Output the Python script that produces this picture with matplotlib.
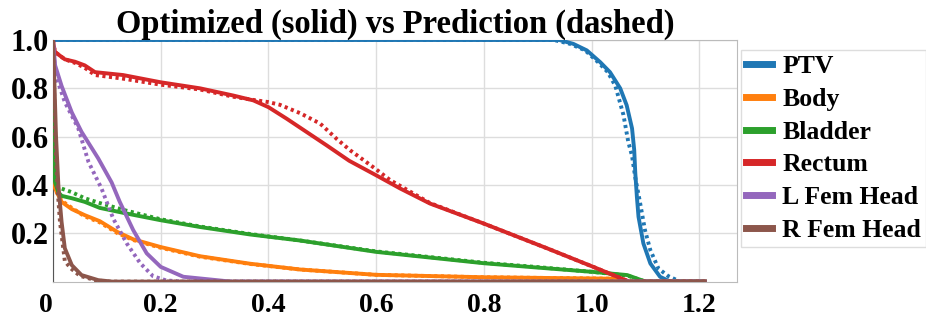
import numpy as np
import matplotlib
matplotlib.use('Agg')
import matplotlib.pyplot as plt

## Data (dose fraction vs volume fraction)

names = ['PTV', 'Body', 'Bladder', 'Rectum', 'L Fem Head', 'R Fem Head']
colors = ['#1f77b4', '#ff7f0e', '#2ca02c', '#d62728', '#9467bd', '#8c564b']

ptv_x = [0, 0.94, 0.966, 0.991, 1.016, 1.034, 1.053, 1.065, 1.075, 1.079, 1.081,
         1.084, 1.087, 1.096, 1.109, 1.127, 1.146, 1.21]
ptv_y = [1, 1, 0.984, 0.957, 0.908, 0.867, 0.80, 0.73, 0.634, 0.545, 0.45,
         0.35, 0.268, 0.158, 0.075, 0.02, 0.0, 0.0]
ptv_px = [0, 0.93, 0.96, 0.988, 1.012, 1.03, 1.044, 1.059, 1.068, 1.075, 1.081,
          1.089, 1.099, 1.109, 1.124, 1.142, 1.164, 1.21]
ptv_py = [1, 1, 0.984, 0.957, 0.908, 0.867, 0.81, 0.69, 0.578, 0.52, 0.43,
          0.337, 0.213, 0.13, 0.054, 0.023, 0.0, 0.0]

body_x = [0, 0.002, 0.004, 0.016, 0.035, 0.059, 0.087, 0.12, 0.149, 0.2, 0.273,
          0.366, 0.459, 0.6, 0.8, 1.04, 1.06, 1.21]
body_y = [1, 0.42, 0.385, 0.33, 0.30, 0.275, 0.25, 0.205, 0.175, 0.143, 0.105,
          0.074, 0.05, 0.028, 0.018, 0.012, 0.0, 0.0]
body_py = [1, 0.42, 0.38, 0.335, 0.305, 0.27, 0.245, 0.20, 0.172, 0.14, 0.103,
           0.073, 0.05, 0.028, 0.018, 0.012, 0.0, 0.0]

bladder_x = [0, 0.001, 0.002, 0.004, 0.01, 0.016, 0.035, 0.059, 0.087, 0.134, 0.2,
             0.273, 0.366, 0.459, 0.6, 0.8, 0.9, 1.003, 1.066, 1.10, 1.21]
bladder_y = [1, 0.6, 0.48, 0.41, 0.37, 0.355, 0.345, 0.33, 0.305, 0.283, 0.254,
             0.226, 0.195, 0.17, 0.123, 0.076, 0.058, 0.04, 0.027, 0.0, 0.0]
bladder_py = [1, 0.65, 0.5, 0.41, 0.39, 0.385, 0.37, 0.345, 0.325, 0.295, 0.258,
              0.228, 0.197, 0.17, 0.125, 0.078, 0.06, 0.04, 0.025, 0.0, 0.0]

rectum_x = [0, 0.002, 0.004, 0.022, 0.041, 0.059, 0.078, 0.13, 0.2, 0.273, 0.335,
            0.372, 0.4, 0.434, 0.471, 0.508, 0.55, 0.6, 0.644, 0.7, 0.8, 0.917,
            1.003, 1.053, 1.07, 1.21]
rectum_y = [1, 0.97, 0.95, 0.92, 0.91, 0.895, 0.867, 0.855, 0.825, 0.80, 0.77,
            0.75, 0.722, 0.674, 0.619, 0.564, 0.50, 0.44, 0.386, 0.323, 0.24, 0.138,
            0.061, 0.015, 0.0, 0.0]
rectum_px = [0, 0.002, 0.004, 0.022, 0.041, 0.059, 0.078, 0.13, 0.2, 0.273, 0.335,
             0.372, 0.4, 0.421, 0.459, 0.496, 0.527, 0.552, 0.598, 0.626, 0.7, 0.8,
             0.917, 1.003, 1.053, 1.07, 1.21]
rectum_py = [1, 0.97, 0.95, 0.92, 0.905, 0.885, 0.855, 0.84, 0.815, 0.795, 0.765,
             0.752, 0.743, 0.732, 0.697, 0.654, 0.59, 0.543, 0.468, 0.42, 0.325, 0.24,
             0.138, 0.061, 0.015, 0.0, 0.0]

lfem_x = [0, 0.004, 0.016, 0.035, 0.053, 0.084, 0.109, 0.124, 0.149, 0.174, 0.2,
          0.242, 0.304, 0.33, 1.21]
lfem_y = [1, 0.895, 0.81, 0.70, 0.62, 0.51, 0.41, 0.33, 0.213, 0.117, 0.061,
          0.02, 0.006, 0.0, 0.0]
lfem_px = [0, 0.004, 0.022, 0.047, 0.066, 0.09, 0.112, 0.137, 0.162, 0.186, 0.21,
           0.24, 1.21]
lfem_py = [1, 0.86, 0.743, 0.634, 0.495, 0.386, 0.26, 0.158, 0.076, 0.022, 0.005,
           0.0, 0.0]

rfem_x = [0, 0.003, 0.0056, 0.01, 0.016, 0.022, 0.035, 0.053, 0.084, 0.11, 1.21]
rfem_y = [1, 0.8, 0.605, 0.40, 0.247, 0.138, 0.068, 0.027, 0.006, 0.0, 0.0]
rfem_px = [0, 0.002, 0.004, 0.008, 0.013, 0.022, 0.033, 0.05, 0.08, 0.105, 1.21]
rfem_py = [1, 0.8, 0.605, 0.40, 0.247, 0.085, 0.055, 0.024, 0.005, 0.0, 0.0]

solid = [(ptv_x, ptv_y), (body_x, body_y), (bladder_x, bladder_y),
         (rectum_x, rectum_y), (lfem_x, lfem_y), (rfem_x, rfem_y)]
pred = [(ptv_px, ptv_py), (body_x, body_py), (bladder_x, bladder_py),
        (rectum_px, rectum_py), (lfem_px, lfem_py), (rfem_px, rfem_py)]

x_ticks = [0, 0.2, 0.4, 0.6, 0.8, 1.0, 1.2]
x_labels = ['0', '0.2', '0.4', '0.6', '0.8', '1.0', '1.2']
y_ticks = [0.2, 0.4, 0.6, 0.8, 1.0]
y_labels = ['0.2', '0.4', '0.6', '0.8', '1.0']

## Plot

plt.rcParams['font.family'] = ['Liberation Serif', 'DejaVu Serif']
plt.rcParams['font.weight'] = 'bold'

fig = plt.figure(figsize=(9.26, 3.2), dpi=100)
ax = fig.add_axes([0.0572, 0.12, 0.7388, 0.755])

for i, name in enumerate(names):
    ax.plot(solid[i][0], solid[i][1], color=colors[i], lw=2.8, label=name,
            solid_joinstyle='round', zorder=3)
    ax.plot(pred[i][0], pred[i][1], color=colors[i], lw=2.8,
            linestyle=(0, (0.8, 0.9)), zorder=3)

ax.set_xlim(0, 1.27)
ax.set_ylim(0, 1.0)
ax.set_xticks(x_ticks)
ax.set_xticklabels(x_labels, fontsize=20, fontweight='bold')
ax.set_yticks(y_ticks)
ax.set_yticklabels(y_labels, fontsize=22, fontweight='bold')
ax.xaxis.get_ticklabels()[0].set_horizontalalignment('right')
ax.tick_params(length=0)
ax.tick_params(axis='x', pad=8)
ax.tick_params(axis='y', pad=3)
ax.grid(True, color='#dddddd', lw=1)
ax.set_axisbelow(True)
for side in ['top', 'right', 'bottom']:
    ax.spines[side].set_color('#bbbbbb')
ax.spines['left'].set_color('#555555')

ax.set_title('Optimized (solid) vs Prediction (dashed)', fontsize=23.5,
             fontweight='bold', pad=5)

leg = fig.legend(loc='upper left', bbox_to_anchor=(741 / 926, 1 - 50 / 320),
                 borderaxespad=0, prop={'size': 18.5, 'weight': 'bold'},
                 handlelength=1.0, handletextpad=0.4, labelspacing=0.38,
                 borderpad=0.2, fancybox=False, framealpha=1)
leg.get_frame().set_edgecolor('#dddddd')
for line in leg.get_lines():
    line.set_linewidth(5)

fig.savefig('out.png', dpi=100)
